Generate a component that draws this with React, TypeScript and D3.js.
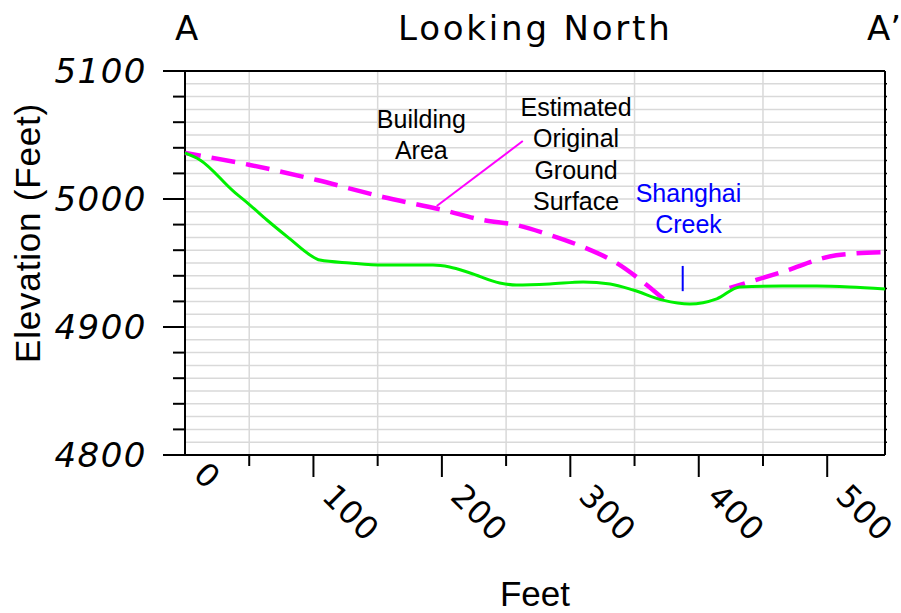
import React, { useRef, useEffect } from 'react';
import * as d3 from 'd3';

// existing ground surface (green)
const groundFeet = [0, 11.7, 37.4, 50.6, 63.8, 81.7, 97.3, 105, 128.4, 154, 193, 206, 222, 245, 258, 284, 310, 331, 349, 372, 393, 414, 432, 465, 492, 517.5, 545];
const groundElev = [5036, 5030.5, 5006.3, 4995.3, 4983.6, 4968.8, 4956.3, 4952.3, 4950, 4948.4, 4948.4, 4946.9, 4942.2, 4934.4, 4932.8, 4933.6, 4935.2, 4933.6, 4928.9, 4921, 4918, 4922, 4931.3, 4932, 4932, 4931.3, 4929.7];

// estimated original ground surface (magenta dashed), NaN = hidden under the creek
const originalFeet = [0, 50.6, 102.7, 154, 200.8, 232, 258, 284, 310, 336, 359.5, 373.5, 400, 424, 465, 507, 545];
const originalElev = [5036, 5026.6, 5014.8, 5001.6, 4991.4, 4983.6, 4979.7, 4971.9, 4962.5, 4950, 4932.8, 4921, NaN, 4930.5, 4943, 4956, 4958.6];

const xTickValues = [0, 100, 200, 300, 400, 500];
const xMinorTickValues = [50, 150, 250, 350, 450];
const yTickValues = [4800, 4900, 5000, 5100];
const yMinorTickValues = [4820, 4840, 4860, 4880, 4920, 4940, 4960, 4980, 5020, 5040, 5060, 5080];

const buildingLines = ['Building', 'Area'];
const originalLines = ['Estimated', 'Original', 'Ground', 'Surface'];
const creekLines = ['Shanghai', 'Creek'];

const App = () => {
  const svgRef = useRef<SVGSVGElement>(null);

  useEffect(() => {
    const width = 901;
    const height = 613;
    const margin = { top: 71, right: 16, bottom: 158, left: 185 };

    const svg = d3.select(svgRef.current);
    svg.selectAll('*').remove();
    svg.attr('viewBox', `0 0 ${width} ${height}`);

    const x = d3.scaleLinear().domain([0, 545]).range([margin.left, width - margin.right]);
    const y = d3.scaleLinear().domain([4800, 5100]).range([height - margin.bottom, margin.top]);

    const x0 = x.range()[0];
    const x1 = x.range()[1];
    const y0 = y.range()[0];
    const y1 = y.range()[1];

    const plotFont = '"DejaVu Sans", sans-serif';
    const arial = '"Liberation Sans", Arial, sans-serif';

    // grid
    const grid = svg.append('g').attr('stroke', '#d9d9d9').attr('stroke-width', 1.5);
    d3.range(4810, 5100, 10).forEach((v) => {
      grid.append('line').attr('x1', x0).attr('x2', x1).attr('y1', y(v)).attr('y2', y(v));
    });
    xMinorTickValues.forEach((v) => {
      grid.append('line').attr('x1', x(v)).attr('x2', x(v)).attr('y1', y0).attr('y2', y1);
    });

    // frame
    const axes = svg.append('g').attr('stroke', '#000').attr('stroke-width', 2).attr('fill', 'none');
    axes.append('line').attr('x1', x0 - 22).attr('x2', x1).attr('y1', y1).attr('y2', y1);
    axes.append('line').attr('x1', x0 - 22).attr('x2', x1).attr('y1', y0).attr('y2', y0);
    axes.append('line').attr('x1', x0).attr('x2', x0).attr('y1', y1).attr('y2', y0);
    axes.append('line').attr('x1', x1).attr('x2', x1).attr('y1', y1).attr('y2', y0);

    yTickValues.forEach((v) => {
      axes.append('line').attr('x1', x0 - 22).attr('x2', x0).attr('y1', y(v)).attr('y2', y(v));
    });
    yMinorTickValues.forEach((v) => {
      axes.append('line').attr('x1', x0 - 12).attr('x2', x0).attr('y1', y(v)).attr('y2', y(v));
    });
    d3.range(4810, 5100, 10).forEach((v) => {
      axes.append('line').attr('x1', x1).attr('x2', x1 + 2).attr('y1', y(v)).attr('y2', y(v)).attr('stroke-width', 1.5);
    });
    xTickValues.filter((v) => v > 0).forEach((v) => {
      axes.append('line').attr('x1', x(v)).attr('x2', x(v)).attr('y1', y0).attr('y2', y0 + 22);
    });
    xMinorTickValues.forEach((v) => {
      axes.append('line').attr('x1', x(v)).attr('x2', x(v)).attr('y1', y0).attr('y2', y0 + 11);
    });

    // tick labels
    svg.append('g')
      .selectAll('text')
      .data(yTickValues)
      .join('text')
      .attr('x', x0 - 38)
      .attr('y', (d) => y(d) + 12)
      .attr('text-anchor', 'end')
      .attr('font-family', plotFont)
      .attr('font-style', 'italic')
      .attr('font-size', 34)
      .attr('letter-spacing', 1.5)
      .text((d) => d);

    svg.append('g')
      .selectAll('text')
      .data(xTickValues)
      .join('text')
      .attr('transform', (d) => `translate(${x(d) + 7},${(d === 0 ? y0 : y0 + 22) + 21}) rotate(45)`)
      .attr('font-family', plotFont)
      .attr('font-size', 32)
      .attr('letter-spacing', 1)
      .text((d) => d);

    // axis titles
    svg.append('text')
      .attr('x', (x0 + x1) / 2)
      .attr('y', 606)
      .attr('text-anchor', 'middle')
      .attr('font-family', arial)
      .attr('font-size', 35)
      .text('Feet');

    svg.append('text')
      .attr('transform', `translate(40, 233) rotate(-90)`)
      .attr('text-anchor', 'middle')
      .attr('font-family', arial)
      .attr('font-size', 35)
      .attr('letter-spacing', 0.8)
      .text('Elevation (Feet)');

    // header
    const header = svg.append('g')
      .attr('font-family', plotFont)
      .attr('font-size', 34);
    header.append('text').attr('x', 175).attr('y', 40).text('A');
    header.append('text').attr('x', 398).attr('y', 40).attr('letter-spacing', 2.8).text('Looking North');
    header.append('text').attr('x', 867).attr('y', 40).text('A’');

    // profiles
    const line = d3.line<[number, number]>()
      .defined((d) => Number.isFinite(d[0]) && Number.isFinite(d[1]))
      .curve(d3.curveMonotoneX);

    const originalPts = originalFeet.map((f, i) => [x(f), y(originalElev[i])] as [number, number]);
    const groundPts = groundFeet.map((f, i) => [x(f), y(groundElev[i])] as [number, number]);

    svg.append('path')
      .attr('d', line(originalPts))
      .attr('fill', 'none')
      .attr('stroke', '#ff00ff')
      .attr('stroke-width', 4.5)
      .attr('stroke-dasharray', '24 11')
      .attr('stroke-dashoffset', 8);

    svg.append('path')
      .attr('d', line(groundPts))
      .attr('fill', 'none')
      .attr('stroke', '#00f000')
      .attr('stroke-width', 3);

    // leader line to original ground surface
    svg.append('line')
      .attr('x1', x(196)).attr('y1', y(4994.5))
      .attr('x2', x(263)).attr('y2', y(5045.3))
      .attr('stroke', '#ff00ff')
      .attr('stroke-width', 2);

    // creek marker
    svg.append('line')
      .attr('x1', x(387.5)).attr('x2', x(387.5))
      .attr('y1', y(4947.7)).attr('y2', y(4928))
      .attr('stroke', '#0000ff')
      .attr('stroke-width', 2);

    // annotation text
    const note = (lines: string[], cx: number, top: number, color: string) => {
      const t = svg.append('text')
        .attr('text-anchor', 'middle')
        .attr('font-family', arial)
        .attr('font-size', 25)
        .attr('fill', color);
      lines.forEach((s, i) => {
        t.append('tspan').attr('x', x(cx)).attr('y', y(top) + i * 31.5).text(s);
      });
    };
    note(buildingLines, 184, 5055.5, '#000');
    note(originalLines, 304.5, 5065, '#000');
    note(creekLines, 392, 4997.7, '#0000ff');
  }, []);

  return (
    <svg
      ref={svgRef}
      width={901}
      height={613}
      style={{ position: 'absolute', left: 0, top: 0, background: '#fff' }}
    />
  );
};

export default App;
